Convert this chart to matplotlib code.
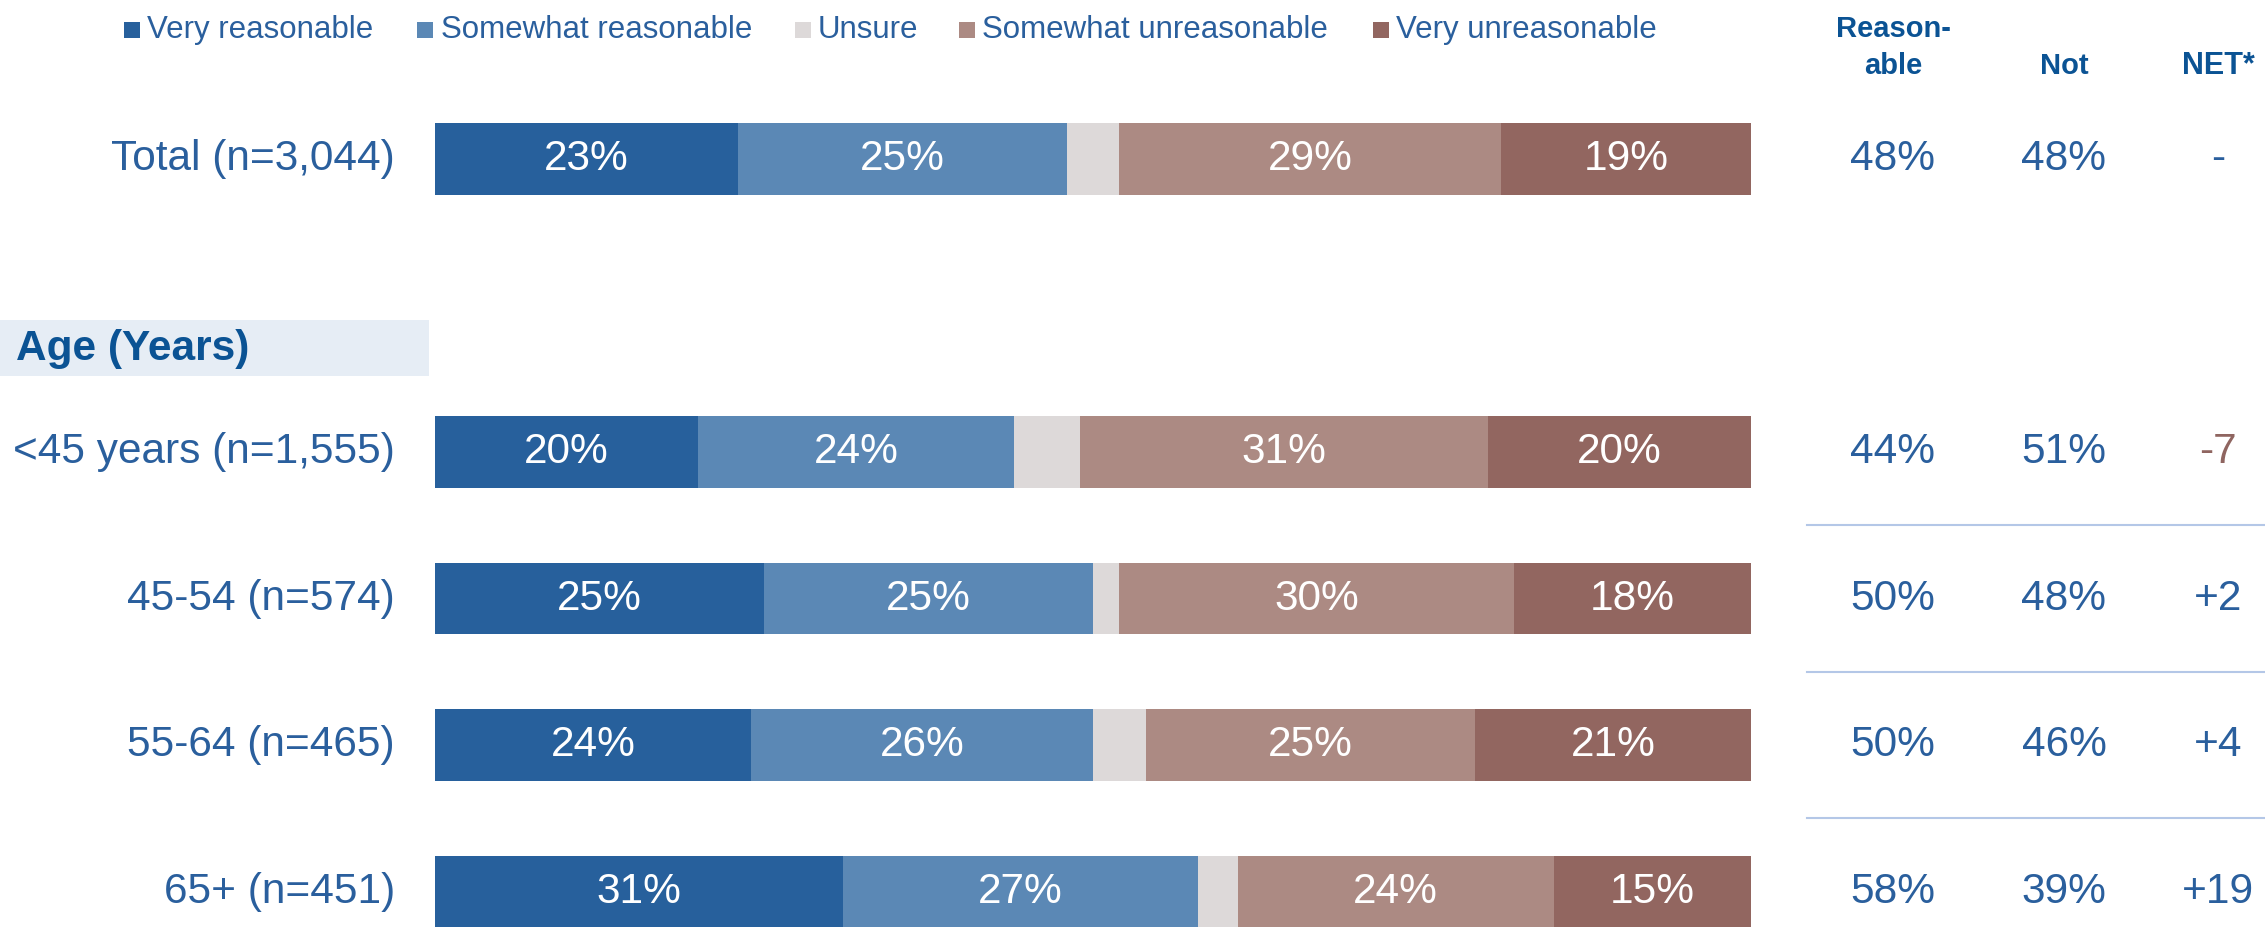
import matplotlib
matplotlib.use("Agg")
import matplotlib.pyplot as plt
from matplotlib.patches import Rectangle
import numpy as np

plt.rcParams["font.family"] = ["Liberation Sans", "DejaVu Sans"]

# Survey results by age group (percent)
groups = ["Total (n=3,044)", "<45 years (n=1,555)", "45-54 (n=574)",
          "55-64 (n=465)", "65+ (n=451)"]
categories = ["Very reasonable", "Somewhat reasonable", "Unsure",
              "Somewhat unreasonable", "Very unreasonable"]
very_reasonable = [23, 20, 25, 24, 31]
somewhat_reasonable = [25, 24, 25, 26, 27]
unsure = [4, 5, 2, 4, 3]
somewhat_unreasonable = [29, 31, 30, 25, 24]
very_unreasonable = [19, 20, 18, 21, 15]
reasonable_total = [48, 44, 50, 50, 58]
not_total = [48, 51, 48, 46, 39]
net_labels = ["-", "-7", "+2", "+4", "+19"]
column_headers = ["Reason-\nable", "Not", "NET*"]
section_title = "Age (Years)"

colors = ["#27609C", "#5B88B5", "#DDD9D9", "#AC8A83", "#926660"]
text_blue = "#2A5F9D"
head_blue = "#0B5394"
neg_color = "#8F6560"

W, H = 2265, 927
fig = plt.figure(figsize=(W / 100, H / 100), dpi=100)
ax = fig.add_axes([0, 0, 1, 1])

# pixel layout -> data coordinates
bar_left_px, bar_right_px = 435, 1751
ppu = (bar_right_px - bar_left_px) / 100.0
row0_px, row_step_px = 159, 146.5
ax.set_xlim(-bar_left_px / ppu, (W - bar_left_px) / ppu)
ax.set_ylim((H - row0_px) / row_step_px, -row0_px / row_step_px)
ax.axis("off")

def px_x(p):
    return (p - bar_left_px) / ppu

def px_y(p):
    return (p - row0_px) / row_step_px

ypos = np.array([0, 2, 3, 4, 5], dtype=float)
series = [very_reasonable, somewhat_reasonable, unsure,
          somewhat_unreasonable, very_unreasonable]

FS = 30.5

left = np.zeros(len(groups))
for cat, vals, col in zip(categories, series, colors):
    vals = np.array(vals, dtype=float)
    ax.barh(ypos, vals, left=left, height=0.49, color=col, edgecolor="none")
    if cat != "Unsure":
        for y, l, v in zip(ypos, left, vals):
            ax.text(l + v / 2, y, f"{int(v)}%", ha="center", va="center",
                    color="white", fontsize=FS)
    left += vals

# row labels
for y, g in zip(ypos, groups):
    ax.text(px_x(395), y, g, ha="right", va="center", color=text_blue,
            fontsize=FS)

# section band
ax.add_patch(Rectangle((px_x(0), px_y(320)), px_x(429) - px_x(0),
                       px_y(376) - px_y(320), facecolor="#E6EDF5",
                       edgecolor="none", zorder=0))
ax.text(px_x(16), px_y(349), section_title, ha="left", va="center",
        color=head_blue, fontsize=30.5, fontweight="bold")

# summary columns
col_x = [px_x(1893), px_x(2064), px_x(2218)]
for y, r, n, d in zip(ypos, reasonable_total, not_total, net_labels):
    ax.text(col_x[0], y, f"{r}%", ha="center", va="center",
            color=text_blue, fontsize=FS)
    ax.text(col_x[1], y, f"{n}%", ha="center", va="center",
            color=text_blue, fontsize=FS)
    ax.text(col_x[2], y, d, ha="center", va="center",
            color=neg_color if d.startswith("-") and len(d) > 1 else text_blue,
            fontsize=FS)

# column headers
head_lines = column_headers[0].split("\n")
ax.text(col_x[0], px_y(29), head_lines[0], ha="center", va="center",
        color=head_blue, fontsize=21, fontweight="bold")
ax.text(col_x[0], px_y(66), head_lines[1], ha="center", va="center",
        color=head_blue, fontsize=21, fontweight="bold")
ax.text(col_x[1], px_y(66), column_headers[1], ha="center", va="center",
        color=head_blue, fontsize=21, fontweight="bold")
ax.text(col_x[2], px_y(66), column_headers[2], ha="center", va="center",
        color=head_blue, fontsize=22, fontweight="bold")

# separators between subgroup rows
for y in [2.5, 3.5, 4.5]:
    ax.plot([px_x(1807), px_x(W)], [y, y], color="#B4C7E7", lw=1.5)

# legend
sq_x = [124, 417, 795, 959, 1373]
tx_x = [147, 441, 818, 982, 1396]
for cat, col, sx, tx in zip(categories, colors, sq_x, tx_x):
    ax.add_patch(Rectangle((px_x(sx), px_y(22)), px_x(sx + 16) - px_x(sx),
                           px_y(38) - px_y(22), facecolor=col,
                           edgecolor="none"))
    ax.text(px_x(tx), px_y(30), cat, ha="left", va="center",
            color=text_blue, fontsize=22.5)

fig.savefig("out.png", dpi=100)
